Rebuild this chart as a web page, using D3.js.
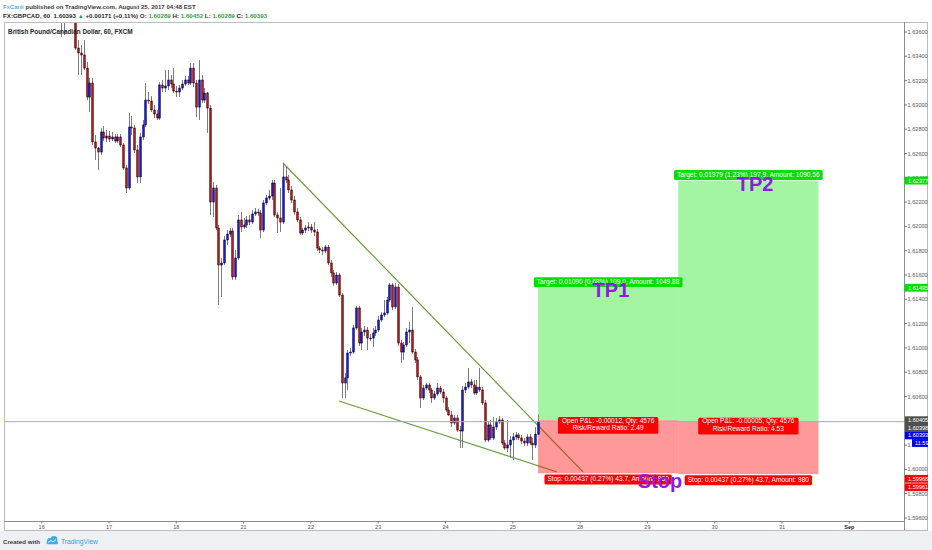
<!DOCTYPE html>
<html><head><meta charset="utf-8">
<script src="https://cdn.jsdelivr.net/npm/d3@7"></script>
<style>html,body{margin:0;padding:0;background:#fff;}svg{display:block;}</style>
</head><body>
<svg id="chart" width="932" height="550"></svg>
<script>
// ---------------- DATA ----------------
const startIndex = 7; // bar index of first candle (0 = first bar of the 16th)
const opens = [
1.63781,1.63822,1.63764,1.63863,1.63904,1.63822,1.63468,1.63427,1.63411,1.63303,
1.63065,1.63180,1.62695,1.62645,1.62612,1.62777,1.62727,1.62744,1.62719,1.62736,
1.62703,1.62736,1.62670,1.62481,1.62316,1.62818,1.62810,1.62629,1.62407,1.62736,
1.62835,1.63040,1.63032,1.62958,1.62925,1.62892,1.63164,1.63139,1.63156,1.63205,
1.63172,1.63114,1.63106,1.63139,1.63172,1.63205,1.63180,1.63303,1.63180,1.62982,
1.63205,1.63040,1.63098,1.62974,1.62201,1.62316,1.61987,1.61682,1.61699,1.61888,
1.61937,1.61962,1.61584,1.61740,1.62053,1.61995,1.62012,1.62053,1.62036,1.62102,
1.62119,1.62110,1.61970,1.62193,1.62234,1.62250,1.62357,1.62094,1.62069,1.62036,
1.62407,1.62382,1.62300,1.62217,1.62119,1.62053,1.61946,1.61970,1.61987,1.61995,
1.61970,1.61954,1.61822,1.61806,1.61798,1.61830,1.61699,1.61617,1.61534,1.61600,
1.61435,1.60711,1.60753,1.60958,1.60966,1.61164,1.61329,1.61040,1.61131,1.61147,
1.61081,1.61081,1.61123,1.61147,1.61230,1.61271,1.61287,1.61394,1.61518,1.61337,
1.61501,1.61040,1.60966,1.61024,1.61131,1.61147,1.60966,1.60901,1.60761,1.60588,
1.60670,1.60695,1.60654,1.60588,1.60621,1.60670,1.60637,1.60588,1.60489,1.60448,
1.60382,1.60423,1.60324,1.60316,1.60654,1.60678,1.60720,1.60695,1.60629,1.60678,
1.60654,1.60547,1.60242,1.60366,1.60259,1.60349,1.60390,1.60407,1.60217,1.60176,
1.60201,1.60242,1.60267,1.60283,1.60259,1.60234,1.60217,1.60267,1.60217,1.60201,
1.60289];
const highs = [
1.63904,1.63863,1.63945,1.63987,1.63945,1.63863,1.63534,1.63493,1.63534,1.63353,
1.63221,1.63221,1.62752,1.62653,1.62810,1.62826,1.62793,1.62785,1.62777,1.62760,
1.62760,1.62760,1.62686,1.62505,1.62933,1.62909,1.62835,1.62670,1.62769,1.62876,
1.63180,1.63106,1.63073,1.62999,1.62958,1.63189,1.63205,1.63287,1.63287,1.63246,
1.63303,1.63156,1.63164,1.63205,1.63238,1.63238,1.63344,1.63344,1.63205,1.63369,
1.63246,1.63139,1.63106,1.62999,1.62366,1.62341,1.62012,1.61740,1.61921,1.61970,
1.61987,1.61987,1.61806,1.62094,1.62119,1.62069,1.62086,1.62094,1.62135,1.62152,
1.62143,1.62135,1.62217,1.62258,1.62300,1.62382,1.62382,1.62119,1.62316,1.62522,
1.62489,1.62423,1.62333,1.62250,1.62152,1.62077,1.61987,1.62012,1.62036,1.62020,
1.62036,1.61979,1.61839,1.61830,1.61847,1.61847,1.61724,1.61641,1.61625,1.61617,
1.61452,1.60794,1.60983,1.60999,1.61189,1.61345,1.61345,1.61164,1.61180,1.61172,
1.61114,1.61164,1.61180,1.61263,1.61296,1.61394,1.61419,1.61534,1.61534,1.61534,
1.61526,1.61065,1.61049,1.61164,1.61213,1.61337,1.60991,1.60925,1.60777,1.60695,
1.60711,1.60711,1.60670,1.60645,1.60711,1.60687,1.60662,1.60604,1.60514,1.60481,
1.60448,1.60448,1.60357,1.60687,1.60711,1.60835,1.60744,1.60736,1.60736,1.60835,
1.60678,1.60571,1.60390,1.60407,1.60432,1.60423,1.60440,1.60423,1.60242,1.60407,
1.60275,1.60300,1.60308,1.60300,1.60283,1.60259,1.60291,1.60291,1.60259,1.60349,
1.60452];
const lows = [
1.63559,1.63575,1.63715,1.63781,1.63740,1.63452,1.63246,1.63246,1.63287,1.63040,
1.62941,1.62670,1.62546,1.62464,1.62588,1.62703,1.62695,1.62695,1.62703,1.62686,
1.62686,1.62653,1.62464,1.62275,1.62300,1.62752,1.62604,1.62357,1.62357,1.62711,
1.62818,1.63007,1.62941,1.62892,1.62876,1.62876,1.63106,1.63106,1.63122,1.63139,
1.63098,1.63065,1.63065,1.63122,1.63156,1.63164,1.63164,1.63147,1.62900,1.62876,
1.63015,1.63015,1.62769,1.62094,1.62077,1.61970,1.61353,1.61419,1.61682,1.61847,
1.61913,1.61559,1.61559,1.61724,1.61954,1.61979,1.61987,1.62012,1.62020,1.62086,
1.62086,1.61904,1.61954,1.62176,1.62217,1.62217,1.62077,1.61946,1.61954,1.62020,
1.62357,1.62275,1.62193,1.62094,1.62036,1.61929,1.61929,1.61946,1.61962,1.61946,
1.61921,1.61798,1.61781,1.61765,1.61781,1.61682,1.61584,1.61510,1.61518,1.61419,
1.60588,1.60588,1.60654,1.60934,1.60950,1.61147,1.61016,1.60983,1.61098,1.60983,
1.61057,1.61008,1.61098,1.61131,1.61213,1.61255,1.61271,1.61378,1.61312,1.61320,
1.61016,1.60876,1.60901,1.61008,1.61040,1.60950,1.60876,1.60736,1.60506,1.60571,
1.60654,1.60629,1.60547,1.60571,1.60604,1.60621,1.60547,1.60473,1.60440,1.60349,
1.60366,1.60308,1.60176,1.60176,1.60629,1.60662,1.60670,1.60612,1.60612,1.60637,
1.60530,1.60226,1.60226,1.60242,1.60242,1.60324,1.60374,1.60201,1.60160,1.60143,
1.60094,1.60077,1.60242,1.60242,1.60209,1.60193,1.60193,1.60201,1.60077,1.60176,
1.60289];
const closes = [
1.63822,1.63764,1.63863,1.63904,1.63822,1.63468,1.63427,1.63411,1.63303,1.63065,
1.63180,1.62695,1.62645,1.62612,1.62777,1.62727,1.62744,1.62719,1.62736,1.62703,
1.62736,1.62670,1.62481,1.62316,1.62818,1.62810,1.62629,1.62407,1.62736,1.62835,
1.63040,1.63032,1.62958,1.62925,1.62892,1.63164,1.63139,1.63156,1.63205,1.63172,
1.63114,1.63106,1.63139,1.63172,1.63205,1.63180,1.63303,1.63180,1.62982,1.63205,
1.63040,1.63098,1.62974,1.62201,1.62316,1.61987,1.61682,1.61699,1.61888,1.61937,
1.61962,1.61584,1.61740,1.62053,1.61995,1.62012,1.62053,1.62036,1.62102,1.62119,
1.62110,1.61970,1.62193,1.62234,1.62250,1.62357,1.62094,1.62069,1.62036,1.62407,
1.62382,1.62300,1.62217,1.62119,1.62053,1.61946,1.61970,1.61987,1.61995,1.61970,
1.61954,1.61822,1.61806,1.61798,1.61830,1.61699,1.61617,1.61534,1.61600,1.61435,
1.60711,1.60753,1.60958,1.60966,1.61164,1.61329,1.61040,1.61131,1.61147,1.61081,
1.61081,1.61123,1.61147,1.61230,1.61271,1.61287,1.61394,1.61518,1.61337,1.61501,
1.61040,1.60966,1.61024,1.61131,1.61147,1.60966,1.60901,1.60761,1.60588,1.60670,
1.60695,1.60654,1.60588,1.60621,1.60670,1.60637,1.60588,1.60489,1.60448,1.60382,
1.60423,1.60324,1.60316,1.60654,1.60678,1.60720,1.60695,1.60629,1.60678,1.60654,
1.60547,1.60242,1.60366,1.60259,1.60349,1.60390,1.60407,1.60217,1.60176,1.60201,
1.60242,1.60267,1.60283,1.60259,1.60234,1.60217,1.60267,1.60217,1.60201,1.60289,
1.60393];

const dayTicks  = [0, 24, 48, 72, 96, 120, 144, 168, 192, 216, 240, 264, 288];
const dayLabels = ["16","17","18","21","22","23","24","25","28","29","30","31","Sep"];
const priceTicks = [1.596,1.598,1.600,1.602,1.604,1.606,1.608,1.610,1.612,1.614,1.616,1.618,1.620,1.622,1.624,1.626,1.628,1.630,1.632,1.634,1.636];

// long positions
const posStart = [177, 227];
const posEnd   = [227, 277];
const entries  = [1.60405, 1.60398];
const targets  = [1.61495, 1.62377];
const stops    = [1.59968, 1.59961];
const targetTexts = ["Target: 0.01090 (0.68%) 109.0, Amount: 1049.88", "Target: 0.01979 (1.23%) 197.9, Amount: 1090.56"];
const stopTexts   = ["Stop: 0.00437 (0.27%) 43.7, Amount: 980", "Stop: 0.00437 (0.27%) 43.7, Amount: 980"];
const pnlTexts    = ["Open P&L: -0.00012, Qty: 4576", "Open P&L: -0.00005, Qty: 4576"];
const rrTexts     = ["Risk/Reward Ratio: 2.49", "Risk/Reward Ratio: 4.53"];

// trend lines [barIndex, price]
const trendUpper = [[86.05, 1.62522], [193.05, 1.59979]];
const trendLower = [[106.0, 1.60563], [183.8, 1.59979]];

// text notes
const noteTexts  = ["TP1", "TP2", "Stop"];
const noteIndex  = [203.0, 254.4, 220.5];
const notePrice  = [1.61419, 1.62291, 1.59847];

const lastPrice = 1.60393;
const countdown = "11:59";
const headerUser = "FxCanli";
const headerLine1 = " published on TradingView.com, August 25, 2017 04:48 EST";
const headerLine2 = [["FX:GBPCAD, 60  1.60393 ","d"],["\u25B2","g"],[" +0.00171 (+0.11%) ","d"],["O: ","d"],["1.60289","g"],[" H: ","d"],["1.60452","g"],[" L: ","d"],["1.60289","g"],[" C: ","d"],["1.60393","g"]];
const chartTitle = "British Pound/Canadian Dollar, 60, FXCM";

// ---------------- DRAW ----------------
const FONT = '"Liberation Sans", Arial, sans-serif';
const svg = d3.select('#chart').attr('font-family', FONT);
const P = {l:4, t:22, r:904, b:521, ar:928, ab:530};

svg.append('rect').attr('width',932).attr('height',550).attr('fill','#ffffff');
svg.append('rect').attr('x',0).attr('y',531).attr('width',932).attr('height',19).attr('fill','#eef1f4');
svg.append('rect').attr('x',P.l+0.5).attr('y',P.t+0.5).attr('width',P.ar-P.l-1).attr('height',P.ab-P.t)
   .attr('fill','#fff').attr('stroke','#b9bcc2');

const x = d3.scaleLinear().domain([0, 288]).range([41.7, 849.3]);
const y = d3.scaleLinear().domain([1.596, 1.636]).range([518, 32]);

svg.append('defs').append('clipPath').attr('id','clip').append('rect')
   .attr('x',P.l+1).attr('y',P.t+1).attr('width',P.r-P.l-1).attr('height',P.b-P.t-1);
const plot = svg.append('g').attr('clip-path','url(#clip)');

// trend lines
const ln = d3.line().x(d=>x(d[0])).y(d=>y(d[1]));
plot.selectAll('path.trend').data([trendUpper, trendLower]).join('path')
   .attr('class','trend').attr('d', ln).attr('fill','none').attr('stroke','#6a9c3a').attr('stroke-width',1.2);

// position boxes
posStart.forEach((s,k)=>{
  const x0 = x(s), x1 = x(posEnd[k]);
  plot.append('rect').attr('x',x0).attr('width',x1-x0)
     .attr('y',y(targets[k])).attr('height',y(entries[k])-y(targets[k])).attr('fill','rgba(0,225,0,0.36)');
  plot.append('rect').attr('x',x0).attr('width',x1-x0)
     .attr('y',y(entries[k])).attr('height',y(stops[k])-y(entries[k])).attr('fill','rgba(255,0,0,0.40)');
});

// candles
const bars = opens.map((o,k)=>({i:startIndex+k, o, h:highs[k], l:lows[k], c:closes[k]}));
plot.selectAll('line.wick').data(bars).join('line').attr('class','wick')
   .attr('x1',d=>Math.round(x(d.i))+0.5).attr('x2',d=>Math.round(x(d.i))+0.5)
   .attr('y1',d=>y(d.h)).attr('y2',d=>y(d.l)).attr('stroke','#7c7c80').attr('stroke-width',1);
plot.selectAll('rect.body').data(bars).join('rect').attr('class','body')
   .attr('x',d=>Math.round(x(d.i))-0.3).attr('width',1.6)
   .attr('y',d=>y(Math.max(d.o,d.c))).attr('height',d=>Math.max(0.8,Math.abs(y(d.o)-y(d.c))))
   .attr('fill',d=>d.c>=d.o?'#1a1ad0':'#b01a1a')
   .attr('stroke',d=>d.c>=d.o?'#0a0a6a':'#5a0a0a').attr('stroke-width',0.6);

// current price line
plot.append('line').attr('x1',P.l).attr('x2',P.r).attr('y1',y(lastPrice)).attr('y2',y(lastPrice))
   .attr('stroke','#a4a4f4').attr('stroke-width',1);

// label helper
function tag(cx, top, lines, bg, fs, lh, padX){
  const g = svg.append('g');
  const r = g.append('rect');
  const texts = lines.map((t,j)=>g.append('text').attr('x',cx).attr('y',top+lh*(j+1)-2)
     .attr('text-anchor','middle').attr('font-size',fs).attr('fill','#fff').text(t));
  const w = d3.max(texts, t=>t.node().getComputedTextLength()) + 2*padX;
  r.attr('x',cx-w/2).attr('y',top).attr('width',w).attr('height',lh*lines.length+1.5).attr('rx',1.5).attr('fill',bg);
}
posStart.forEach((s,k)=>{
  const cx = (x(s)+x(posEnd[k]))/2;
  tag(cx, y(targets[k])-10.5, [targetTexts[k]], '#00e000', 6.6, 8.5, 3);
});
posStart.forEach((s,k)=>{
  const cx = (x(s)+x(posEnd[k]))/2;
  tag(cx, y(stops[k])+1.2, [stopTexts[k]], '#ff0000', 6.6, 8.5, 3);
});
posStart.forEach((s,k)=>{
  const cx = (x(s)+x(posEnd[k]))/2;
  tag(cx, y(entries[k])-3.2, [pnlTexts[k], rrTexts[k]], '#ff0000', 6.6, 7.6, 4);
});

// notes
noteTexts.forEach((t,k)=>{
  svg.append('text').attr('x',x(noteIndex[k])).attr('y',y(notePrice[k])).attr('text-anchor','middle')
     .attr('font-size',20).attr('font-weight','bold').attr('fill','#8a1de0').text(t);
});

// price axis
svg.append('line').attr('x1',P.r+0.5).attr('x2',P.r+0.5).attr('y1',P.t).attr('y2',P.ab).attr('stroke','#8c8c8c');
const fmt = d3.format('.5f');
const pa = svg.append('g');
priceTicks.forEach(v=>{
  pa.append('line').attr('x1',P.r).attr('x2',P.r+3).attr('y1',y(v)).attr('y2',y(v)).attr('stroke','#777');
  pa.append('text').attr('x',P.r+3.5).attr('y',y(v)+2).attr('font-size',5.6).attr('fill','#555').text(fmt(v));
});
function axisTag(yc, text, bg, x0){
  svg.append('rect').attr('x',x0).attr('y',yc-3.9).attr('width',P.ar-x0).attr('height',7.8).attr('fill',bg);
  svg.append('text').attr('x',x0+3).attr('y',yc+2).attr('font-size',5.6).attr('fill','#fff').text(text);
}
axisTag(y(targets[1]), fmt(targets[1]), '#00e000', P.r+1);
axisTag(y(targets[0]), fmt(targets[0]), '#00e000', P.r+1);
// stacked cluster near last price
const cluster = [[entries[0],'#505050'],[entries[1],'#505050'],[lastPrice,'#0000f0']];
let prev = -1e9;
const clusterY = cluster.map(([v])=>{ let yy = Math.max(y(v), prev+7.6); prev = yy; return yy; });
cluster.forEach(([v,c],k)=>axisTag(clusterY[k], fmt(v), c, P.r+1));
axisTag(clusterY[2]+7.6, countdown, '#0000f0', P.r+8);
axisTag(y(stops[0])+5.5, fmt(stops[0]), '#ff0000', P.r+1);
axisTag(y(stops[1])+13.1, fmt(stops[1]), '#ff0000', P.r+1);

// time axis
svg.append('line').attr('x1',P.l).attr('x2',P.r).attr('y1',P.b+0.5).attr('y2',P.b+0.5).attr('stroke','#8c8c8c');
dayTicks.forEach((d,k)=>{
  svg.append('line').attr('x1',x(d)).attr('x2',x(d)).attr('y1',P.b).attr('y2',P.b+2.5).attr('stroke','#777');
  svg.append('text').attr('x',x(d)).attr('y',P.b+7.8).attr('text-anchor','middle').attr('font-size',5.6)
     .attr('font-weight', dayLabels[k]==='Sep'?'bold':'normal').attr('fill', dayLabels[k]==='Sep'?'#222':'#555').text(dayLabels[k]);
});

// header & texts
function fit(t, w){ const m = t.node().getComputedTextLength(); t.attr('font-size', parseFloat(t.attr('font-size'))*w/m); }
const h1 = svg.append('text').attr('x',3).attr('y',8.6).attr('font-size',7).attr('font-weight','bold').attr('fill','#3a3a3a');
h1.append('tspan').attr('fill','#2b8fe6').attr('font-weight','normal').text(headerUser);
h1.append('tspan').text(headerLine1);
fit(h1, 193);
const h2 = svg.append('text').attr('x',3).attr('y',17.8).attr('font-size',7).attr('font-weight','bold').attr('fill','#2a2a2a');
headerLine2.forEach(([t,c])=>h2.append('tspan').attr('fill', c==='g'?'#2ea043':'#2a2a2a').attr('xml:space','preserve').text(t));
fit(h2, 265);
const tt = svg.append('text').attr('x',8).attr('y',33.6).attr('font-size',7).attr('font-weight','bold').attr('fill','#222').text(chartTitle);
fit(tt, 125);

// footer
const f1 = svg.append('text').attr('x',3).attr('y',543.6).attr('font-size',7).attr('font-weight','bold').attr('fill','#3c3c3c').text('Created with');
fit(f1, 37);
const logo = svg.append('g').attr('fill','#46a9ec');
logo.append('circle').attr('cx',50).attr('cy',541).attr('r',3);
logo.append('circle').attr('cx',54).attr('cy',539.5).attr('r',3.4);
logo.append('rect').attr('x',46.5).attr('y',541).attr('width',11.5).attr('height',3.2).attr('rx',1.5);
logo.append('path').attr('d','M48,542.5 l3,-2 l2,1.5 l3,-2.5').attr('stroke','#fff').attr('stroke-width',0.9).attr('fill','none');
const f2 = svg.append('text').attr('x',61).attr('y',543.6).attr('font-size',7).attr('fill','#2e9de6').text('TradingView');
fit(f2, 37);
</script>
</body></html>
